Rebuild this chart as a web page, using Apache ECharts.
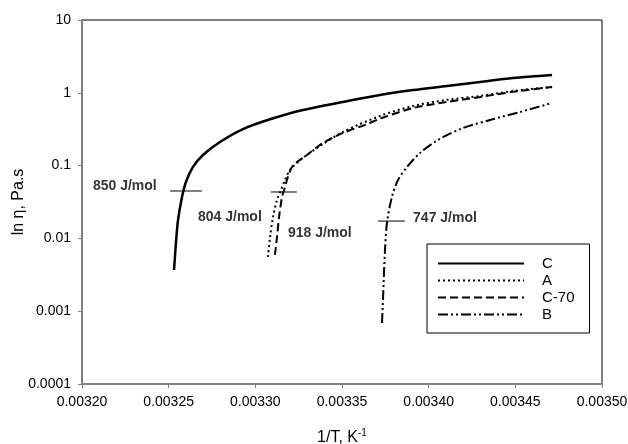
<!DOCTYPE html>
<html>
<head>
<meta charset="utf-8">
<script src="https://cdn.jsdelivr.net/npm/echarts@6/dist/echarts.min.js"></script>
<style>
  html, body { margin: 0; padding: 0; background: #fff; }
  #chart { width: 628px; height: 444px; }
</style>
</head>
<body>
<div id="chart"></div>
<script>
// curve data: [1/T, viscosity]
const curveC = [
    [0.0032531, 0.00368], [0.0032542, 0.00865], [0.0032554, 0.0179], [0.0032577, 0.037],
    [0.0032600, 0.060], [0.0032640, 0.0957], [0.0032698, 0.140], [0.0032796, 0.211],
    [0.0032929, 0.318], [0.0033085, 0.433], [0.0033275, 0.581], [0.0033506, 0.748],
    [0.0033719, 0.933], [0.0033910, 1.09], [0.0034106, 1.24], [0.0034296, 1.41],
    [0.0034487, 1.60], [0.0034712, 1.76]
];
const curveA = [
    [0.0033073, 0.00556], [0.0033085, 0.0104], [0.0033102, 0.0197], [0.0033125, 0.0337],
    [0.0033148, 0.0462], [0.0033171, 0.0634], [0.0033200, 0.087], [0.0033258, 0.119],
    [0.0033373, 0.186], [0.0033506, 0.290], [0.0033719, 0.480], [0.0033910, 0.659],
    [0.0034106, 0.80], [0.0034296, 0.904], [0.0034487, 1.06], [0.0034712, 1.20]
];
const curveC70 = [
    [0.0033113, 0.00592], [0.0033125, 0.0104], [0.0033137, 0.0197], [0.0033154, 0.037],
    [0.0033171, 0.0508], [0.0033188, 0.070], [0.0033217, 0.100], [0.0033298, 0.140],
    [0.0033390, 0.204], [0.0033506, 0.281], [0.0033644, 0.371], [0.0033719, 0.441],
    [0.0033910, 0.618], [0.0034106, 0.748], [0.0034296, 0.875], [0.0034487, 1.03],
    [0.0034712, 1.20]
];
const curveB = [
    [0.0033731, 0.00069], [0.0033737, 0.00157], [0.0033748, 0.0069], [0.0033760, 0.0168],
    [0.0033788, 0.037], [0.0033823, 0.0634], [0.0033875, 0.0957], [0.0033950, 0.149],
    [0.0034054, 0.225], [0.0034198, 0.328], [0.0034354, 0.423], [0.0034527, 0.545],
    [0.0034712, 0.725]
];

// short marker lines at the activation-energy points
const markerLines = [
    [[0.0032508, 0.0448], [0.0032692, 0.0448]],
    [[0.0033090, 0.0434], [0.0033240, 0.0434]],
    [[0.0033708, 0.0173], [0.0033863, 0.0173]]
];
// text labels (left edge of text)
const labelText = ['850 J/mol', '804 J/mol', '918 J/mol', '747 J/mol'];
const labelPos = [[0.0032063, 0.0525], [0.0032669, 0.0197], [0.0033188, 0.0119], [0.0033910, 0.0191]];

const xTicks = [0.0032, 0.00325, 0.0033, 0.00335, 0.0034, 0.00345, 0.0035];
const yTicks = [0.0001, 0.001, 0.01, 0.1, 1, 10];

const font = 'Liberation Sans, Arial, sans-serif';

function curve(name, data, dash, width) {
    return {
        name: name,
        type: 'line',
        data: data,
        symbol: 'none',
        smooth: 0.3,
        lineStyle: { color: '#000', width: width, type: dash, cap: 'butt' },
        itemStyle: { color: '#000' },
        z: 3
    };
}

const series = [
    curve('C', curveC, 'solid', 2.5),
    curve('A', curveA, [2, 3], 2),
    curve('C-70', curveC70, [8, 4], 2),
    curve('B', curveB, [10, 3, 2, 3, 2, 3], 2)
];

markerLines.forEach(function (seg) {
    series.push({
        type: 'line', data: seg, symbol: 'none', silent: true,
        lineStyle: { color: '#000', width: 1 }, z: 4
    });
});

series.push({
    type: 'scatter',
    silent: true,
    symbolSize: 0,
    data: labelPos.map(function (p, i) { return { value: p, name: labelText[i] }; }),
    label: {
        show: true,
        position: 'right',
        distance: 0,
        formatter: '{b}',
        fontFamily: font,
        fontWeight: 'bold',
        fontSize: 14,
        color: '#000'
    }
});

const option = {
    backgroundColor: '#fff',
    animation: false,
    grid: {
        left: 82, right: 26, top: 20, bottom: 60,
        outerBoundsMode: 'none',
        containLabel: false,
        show: true, borderColor: '#000', borderWidth: 1
    },
    legend: {
        data: ['C', 'A', 'C-70', 'B'],
        orient: 'vertical',
        left: 427,
        top: 244,
        itemWidth: 86,
        itemHeight: 14,
        itemGap: 2,
        padding: [12, 15, 11, 10],
        borderColor: '#000',
        borderWidth: 1,
        itemStyle: { opacity: 0 },
        textStyle: { fontFamily: font, fontSize: 15, color: '#000', padding: [0, 0, 0, 13] }
    },
    xAxis: {
        type: 'value',
        min: xTicks[0],
        max: xTicks[xTicks.length - 1],
        interval: 0.00005,
        splitLine: { show: false },
        axisLine: { lineStyle: { color: '#808080', width: 2 } },
        axisTick: { length: 4, lineStyle: { color: '#808080', width: 1 } },
        axisLabel: {
            fontFamily: font, fontSize: 14, color: '#000', margin: 11,
            formatter: function (v) { return v.toFixed(5); }
        },
        name: '1/T, K{sup|-1}',
        nameLocation: 'middle',
        nameGap: 44,
        nameTextStyle: {
            fontFamily: font, fontSize: 16, color: '#000',
            rich: { sup: { fontFamily: font, fontSize: 10, color: '#000', verticalAlign: 'top', padding: [0, 0, 9, 0] } }
        }
    },
    yAxis: {
        type: 'log',
        min: yTicks[0],
        max: yTicks[yTicks.length - 1],
        logBase: 10,
        splitLine: { show: false },
        minorTick: { show: false },
        axisLine: { lineStyle: { color: '#808080', width: 2 } },
        axisTick: { length: 4, lineStyle: { color: '#808080', width: 1 } },
        axisLabel: {
            fontFamily: font, fontSize: 14, color: '#000', margin: 11,
            formatter: function (v) { return String(Number(v.toPrecision(1))); }
        },
        name: 'ln η, Pa.s',
        nameLocation: 'middle',
        nameGap: 55,
        nameMoveOverlap: false,
        nameTextStyle: { fontFamily: font, fontSize: 16, color: '#000' }
    },
    series: series
};

const chart = echarts.init(document.getElementById('chart'));
chart.setOption(option);
</script>
</body>
</html>
